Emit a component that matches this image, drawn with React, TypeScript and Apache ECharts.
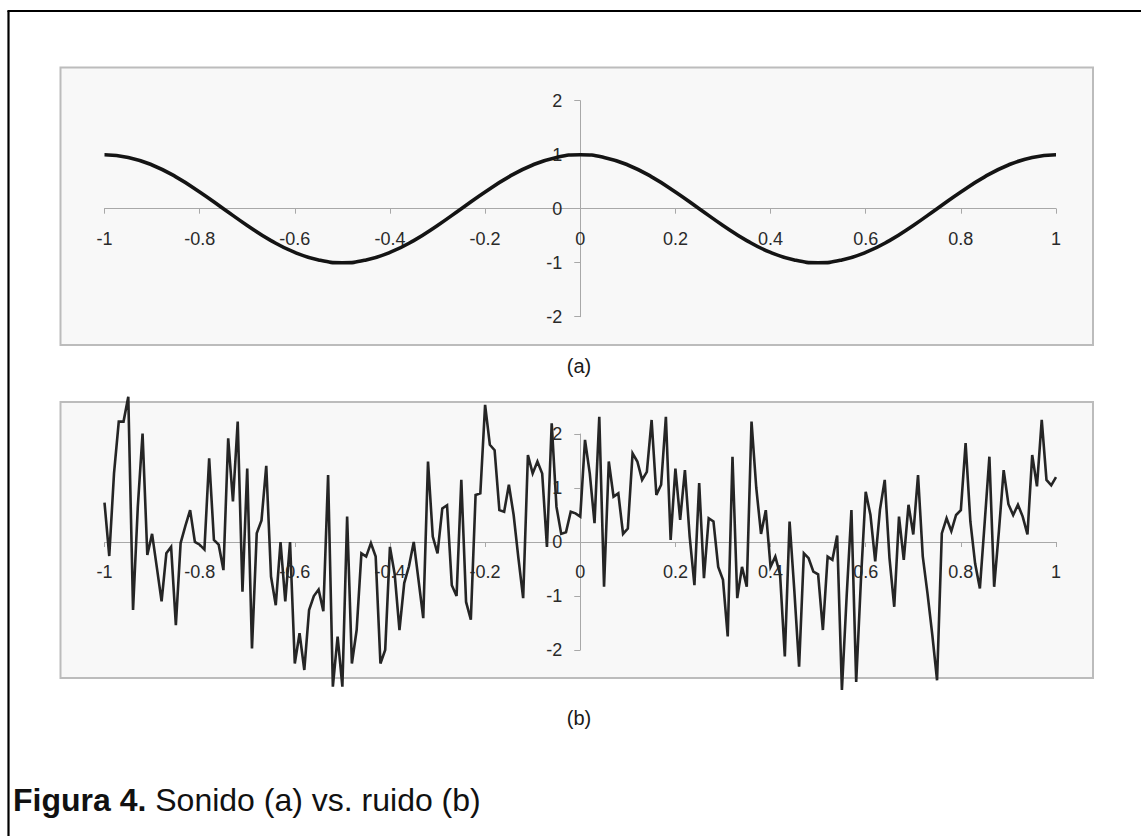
import React, { useEffect, useRef } from "react";
import * as echarts from "echarts";

// ---- data ----
const xTickLabels = ["-1", "-0.8", "-0.6", "-0.4", "-0.2", "0", "0.2", "0.4", "0.6", "0.8", "1"];
const yTickLabels = ["-2", "-1", "0", "1", "2"];

// (a) sound: sampled every 0.05 from -1 to 1
const soundStart = -1;
const soundStep = 0.05;
const soundY = [
  1, 0.95, 0.81, 0.59, 0.31, 0, -0.31, -0.59, -0.81, -0.95,
  -1, -0.95, -0.81, -0.59, -0.31, 0, 0.31, 0.59, 0.81, 0.95,
  1, 0.95, 0.81, 0.59, 0.31, 0, -0.31, -0.59, -0.81, -0.95,
  -1, -0.95, -0.81, -0.59, -0.31, 0, 0.31, 0.59, 0.81, 0.95,
  1,
];

// (b) noise: sampled every 0.01 from -1 to 1
const noiseStart = -1;
const noiseStep = 0.01;
const noiseY = [
  0.73, -0.26, 1.27, 2.23, 2.23, 2.69, -1.26, 0.65, 2.01, -0.24,
  0.15, -0.47, -1.1, -0.21, -0.09, -1.54, -0.02, 0.3, 0.59, 0.0,
  -0.05, -0.14, 1.55, 0.04, -0.05, -0.52, 1.92, 0.75, 2.23, -0.92,
  1.36, -1.97, 0.16, 0.4, 1.41, -0.64, -1.17, 0.0, -1.1, 0.0,
  -2.25, -1.69, -2.37, -1.26, -1.0, -0.88, -1.28, 1.24, -2.68, -1.75,
  -2.68, 0.47, -2.25, -1.63, -0.21, -0.27, -0.02, -0.27, -2.25, -2.0,
  -0.09, -0.6, -1.63, -0.76, -0.45, 0.0, -0.7, -1.41, 1.49, 0.1,
  -0.21, 0.62, 0.68, -0.8, -1.0, 1.15, -1.11, -1.44, 0.87, 0.9,
  2.54, 1.8, 1.7, 0.59, 0.56, 1.06, 0.5, -0.3, -1.04, 1.61,
  1.27, 1.49, 1.27, -0.09, 2.2, 0.65, 0.15, 0.18, 0.56, 0.53,
  0.47, 1.89, 1.27, 0.35, 2.32, -0.83, 1.49, 0.84, 0.9, 0.15,
  0.25, 1.64, 1.49, 1.15, 1.3, 2.26, 0.87, 1.06, 2.32, 0.04,
  1.36, 0.41, 1.33, 0.1, -0.8, 1.09, -0.67, 0.44, 0.38, -0.46,
  -0.7, -1.75, 1.58, -1.04, -0.46, -0.83, 2.23, 1.0, 0.15, 0.59,
  -0.46, -0.27, -0.6, -2.12, 0.38, -0.9, -2.31, -0.21, -0.3, -0.55,
  -0.6, -1.63, -0.27, -0.33, 0.12, -2.74, -1.0, 0.59, -2.59, -0.7,
  0.93, 0.5, -0.36, 0.6, 1.15, -0.3, -1.2, 0.47, -0.33, 0.69,
  0.14, 1.24, -0.27, -0.96, -1.72, -2.56, 0.16, 0.44, 0.2, 0.5,
  0.59, 1.83, 0.38, -0.4, -0.86, 0.35, 1.58, -0.83, 0.2, 1.33,
  0.7, 0.5, 0.69, 0.47, 0.14, 1.61, 1.03, 2.26, 1.15, 1.05,
  1.2,
];

const captionBold = "Figura 4.";
const captionRest = " Sonido (a) vs. ruido (b)";
const subLabelA = "(a)";
const subLabelB = "(b)";

const FONT = "'Liberation Sans', Arial, Helvetica, sans-serif";
const AXIS_COLOR = "#a8a8a8";
const LABEL_COLOR = "#2a2a2a";

const GRID_W = 951.5;
const GRID_H = 216;

function makeXAxis(gridIndex: number) {
  return {
    type: "value" as const,
    gridIndex,
    position: "bottom" as const,
    offset: -GRID_H / 2,
    min: -1,
    max: 1,
    interval: 0.2,
    axisLine: { onZero: false, lineStyle: { color: AXIS_COLOR, width: 1 } },
    axisTick: { show: true, length: 5, lineStyle: { color: AXIS_COLOR } },
    splitLine: { show: false },
    axisLabel: {
      margin: 21,
      fontSize: 18,
      fontFamily: FONT,
      color: LABEL_COLOR,
      showMinLabel: true,
      showMaxLabel: true,
      hideOverlap: false,
      formatter: (v: number) => {
        const idx = Math.round((v + 1) / 0.2);
        return xTickLabels[idx] ?? "";
      },
    },
  };
}

function makeYAxis(gridIndex: number) {
  return {
    type: "value" as const,
    gridIndex,
    position: "left" as const,
    offset: -GRID_W / 2,
    min: -2,
    max: 2,
    interval: 1,
    axisLine: { onZero: false, lineStyle: { color: AXIS_COLOR, width: 1 } },
    axisTick: { show: true, length: 6, lineStyle: { color: AXIS_COLOR } },
    splitLine: { show: false },
    axisLabel: {
      margin: 18,
      fontSize: 18,
      fontFamily: FONT,
      color: LABEL_COLOR,
      hideOverlap: false,
      formatter: (v: number) => {
        const idx = Math.round(v + 2);
        return yTickLabels[idx] ?? "";
      },
    },
  };
}

export default function App() {
  const ref = useRef<HTMLDivElement>(null);

  useEffect(() => {
    if (!ref.current) return;
    const chart = echarts.init(ref.current, null, { renderer: "svg" });

    const soundData = soundY.map((v, i) => [soundStart + i * soundStep, v]);
    const noiseData = noiseY.map((v, i) => [noiseStart + i * noiseStep, v]);

    chart.setOption({
      animation: false,
      backgroundColor: "#ffffff",
      grid: [
        { left: 104.5, top: 100.7, width: GRID_W, height: GRID_H },
        { left: 104.5, top: 434, width: GRID_W, height: GRID_H },
      ],
      xAxis: [makeXAxis(0), makeXAxis(1)],
      yAxis: [makeYAxis(0), makeYAxis(1)],
      series: [
        {
          type: "line",
          xAxisIndex: 0,
          yAxisIndex: 0,
          data: soundData,
          smooth: true,
          showSymbol: false,
          clip: false,
          lineStyle: { color: "#141414", width: 3.6 },
          z: 5,
        },
        {
          type: "line",
          xAxisIndex: 1,
          yAxisIndex: 1,
          data: noiseData,
          showSymbol: false,
          clip: false,
          lineStyle: { color: "#252525", width: 2.6, join: "miter" },
          z: 5,
        },
      ],
      graphic: [
        {
          type: "rect",
          z: -10,
          silent: true,
          shape: { x: 60.5, y: 67.5, width: 1032.5, height: 277.5 },
          style: { fill: "#f8f8f8", stroke: "#bcbcbc", lineWidth: 2 },
        },
        {
          type: "rect",
          z: -10,
          silent: true,
          shape: { x: 60.5, y: 402, width: 1032.5, height: 276 },
          style: { fill: "#f8f8f8", stroke: "#bcbcbc", lineWidth: 2 },
        },
        {
          type: "line",
          silent: true,
          shape: { x1: 8.5, y1: 11, x2: 8.5, y2: 840 },
          style: { stroke: "#000", lineWidth: 2.2 },
        },
        {
          type: "line",
          silent: true,
          shape: { x1: 7.4, y1: 11, x2: 1145, y2: 11 },
          style: { stroke: "#000", lineWidth: 2.2 },
        },
        {
          type: "text",
          silent: true,
          x: 579,
          y: 366,
          style: {
            text: subLabelA,
            fontSize: 20,
            fontFamily: FONT,
            fill: "#1a1a1a",
            align: "center",
            verticalAlign: "middle",
          },
        },
        {
          type: "text",
          silent: true,
          x: 579,
          y: 718,
          style: {
            text: subLabelB,
            fontSize: 20,
            fontFamily: FONT,
            fill: "#1a1a1a",
            align: "center",
            verticalAlign: "middle",
          },
        },
        {
          type: "text",
          silent: true,
          x: 13,
          y: 800,
          style: {
            text: "{b|" + captionBold + "}{r|" + captionRest + "}",
            verticalAlign: "middle",
            align: "left",
            rich: {
              b: { fontSize: 32, fontWeight: "bold", fontFamily: FONT, fill: "#111" },
              r: { fontSize: 32, fontFamily: FONT, fill: "#111" },
            },
          },
        },
      ],
    });

    return () => chart.dispose();
  }, []);

  return (
    <div
      ref={ref}
      style={{ position: "fixed", left: 0, top: 0, width: 1141, height: 836 }}
    />
  );
}
